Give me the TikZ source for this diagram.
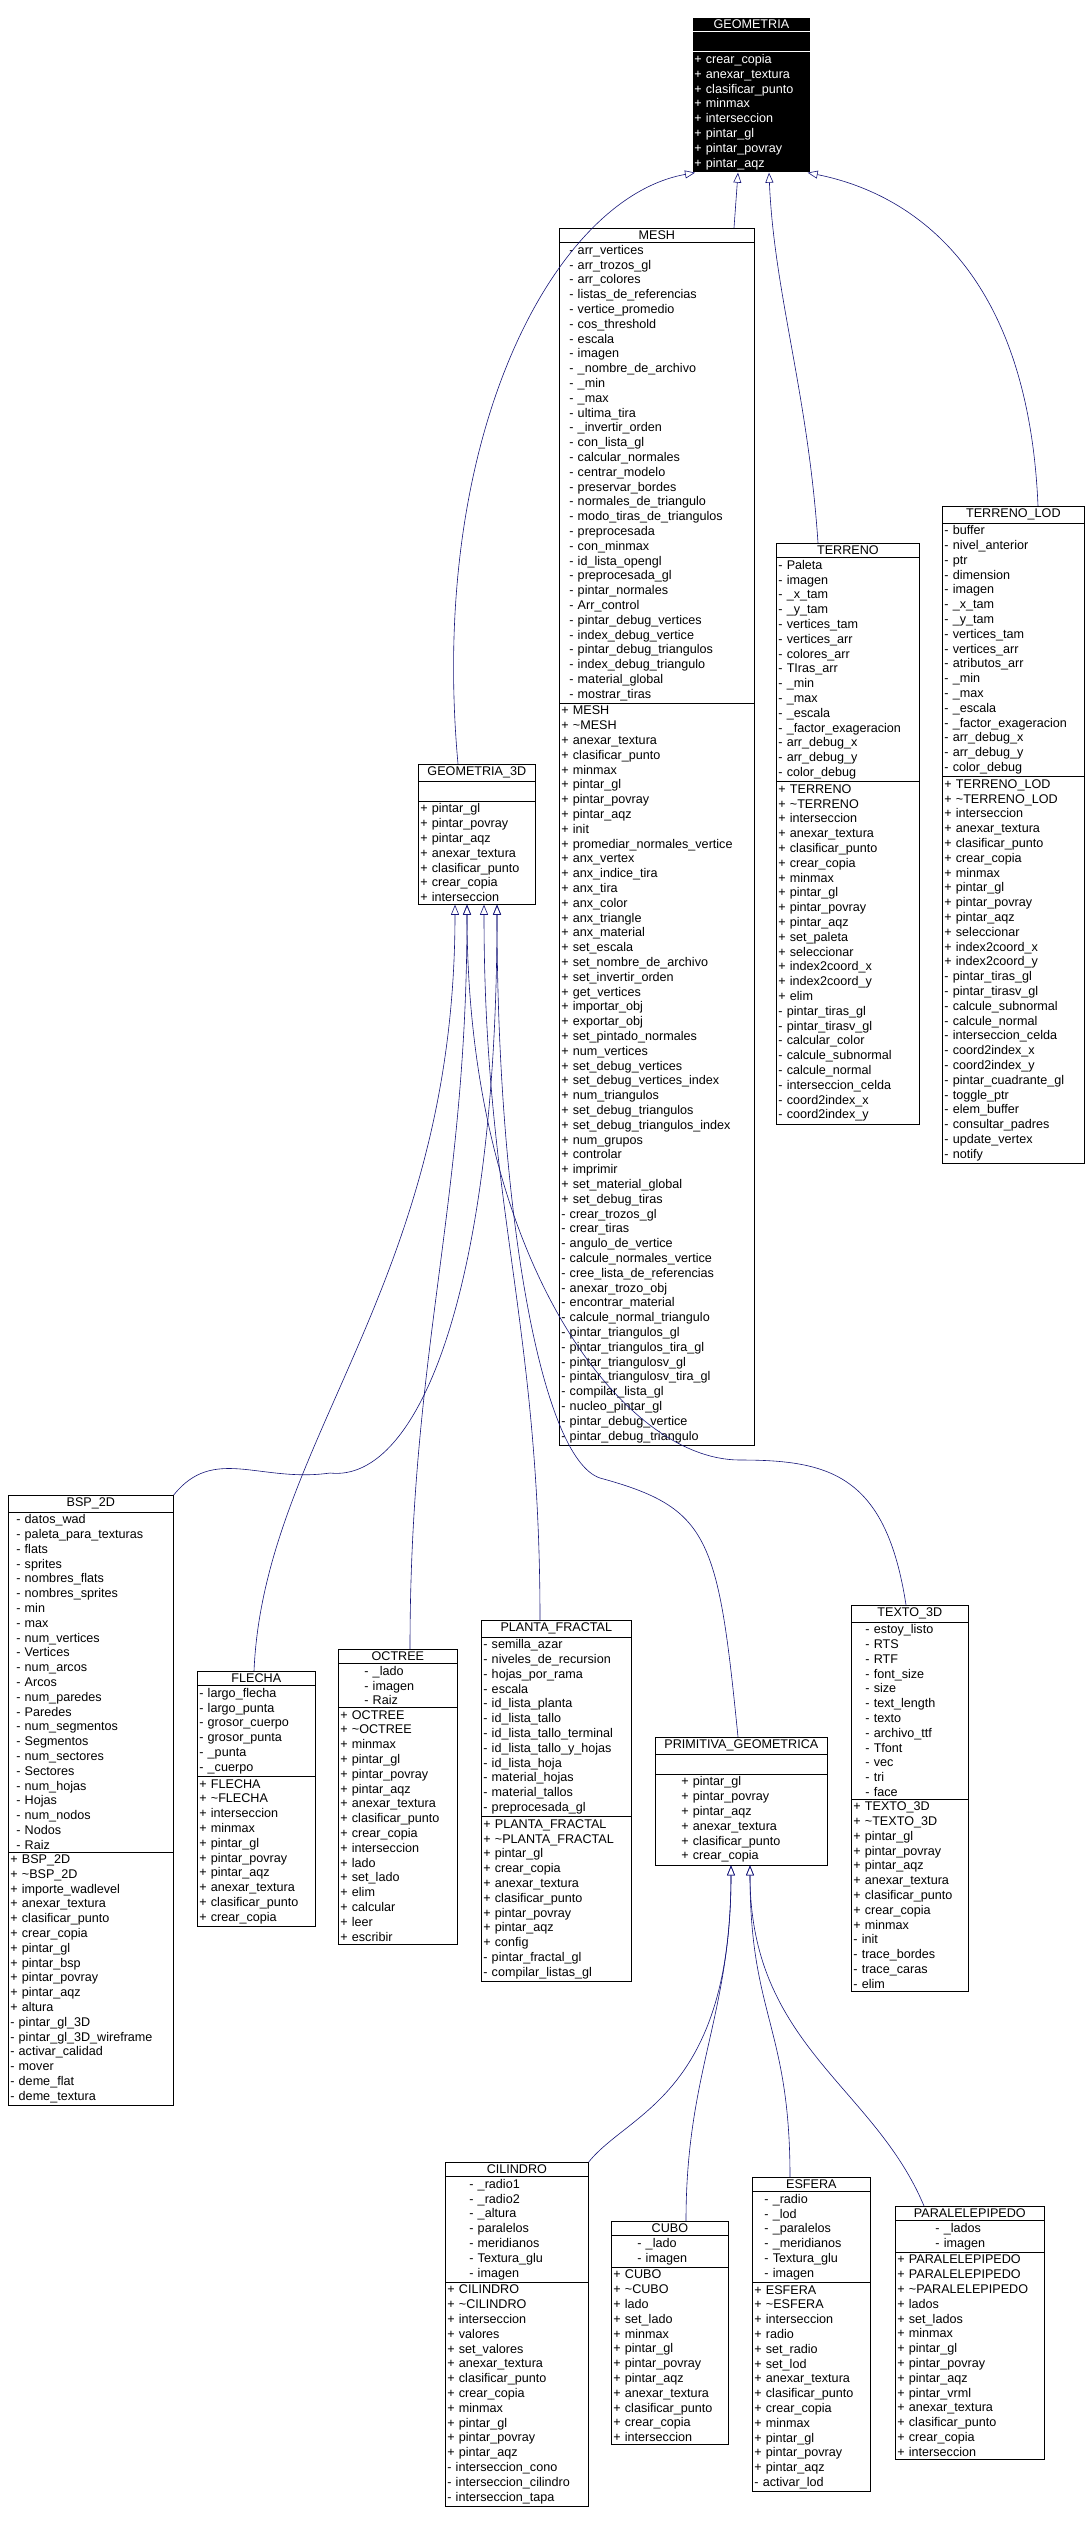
\documentclass[tikz,border=0pt]{standalone}
\usepackage{fontspec}
\setmainfont{Liberation Sans}
\usetikzlibrary{shapes.multipart,arrows.meta}

\begin{document}
\catcode`\_=12
\begin{tikzpicture}[x=1pt,y=-1pt,
    umlclass/.style={rectangle split, rectangle split parts=3, draw, line width=0.7pt,
        anchor=north west, inner xsep=2pt, inner ysep=2.3pt, align=left,
        font=\fontsize{12.6}{14.8}\selectfont},
    darkclass/.style={umlclass, fill=black, draw=white, text=white},
    inherit/.style={draw={rgb,255:red,20;green,20;blue,120}, line width=0.6pt,
        -{Triangle[open,width=8pt,length=10pt]}},
    ]
    \useasboundingbox (0,0) rectangle (1085,2532);

    % top level
    \node[darkclass, text width=114pt] (geom) at (692,17) {\makebox[\linewidth]{GEOMETRIA}
        \nodepart{two}\strut
        \nodepart{three}+ crear_copia\\+ anexar_textura\\+ clasificar_punto\\+ minmax\\+ interseccion\\+ pintar_gl\\+ pintar_povray\\+ pintar_aqz};

    \node[umlclass, text width=191pt] (mesh) at (559,228) {\makebox[\linewidth]{MESH}
        \nodepart{two}\leftskip=8pt - arr_vertices\\- arr_trozos_gl\\- arr_colores\\- listas_de_referencias\\- vertice_promedio\\- cos_threshold\\- escala\\- imagen\\- _nombre_de_archivo\\- _min\\- _max\\- ultima_tira\\- _invertir_orden\\- con_lista_gl\\- calcular_normales\\- centrar_modelo\\- preservar_bordes\\- normales_de_triangulo\\- modo_tiras_de_triangulos\\- preprocesada\\- con_minmax\\- id_lista_opengl\\- preprocesada_gl\\- pintar_normales\\- Arr_control\\- pintar_debug_vertices\\- index_debug_vertice\\- pintar_debug_triangulos\\- index_debug_triangulo\\- material_global\\- mostrar_tiras\par
        \nodepart{three}+ MESH\\+ \textasciitilde MESH\\+ anexar_textura\\+ clasificar_punto\\+ minmax\\+ pintar_gl\\+ pintar_povray\\+ pintar_aqz\\+ init\\+ promediar_normales_vertice\\+ anx_vertex\\+ anx_indice_tira\\+ anx_tira\\+ anx_color\\+ anx_triangle\\+ anx_material\\+ set_escala\\+ set_nombre_de_archivo\\+ set_invertir_orden\\+ get_vertices\\+ importar_obj\\+ exportar_obj\\+ set_pintado_normales\\+ num_vertices\\+ set_debug_vertices\\+ set_debug_vertices_index\\+ num_triangulos\\+ set_debug_triangulos\\+ set_debug_triangulos_index\\+ num_grupos\\+ controlar\\+ imprimir\\+ set_material_global\\+ set_debug_tiras\\- crear_trozos_gl\\- crear_tiras\\- angulo_de_vertice\\- calcule_normales_vertice\\- cree_lista_de_referencias\\- anexar_trozo_obj\\- encontrar_material\\- calcule_normal_triangulo\\- pintar_triangulos_gl\\- pintar_triangulos_tira_gl\\- pintar_triangulosv_gl\\- pintar_triangulosv_tira_gl\\- compilar_lista_gl\\- nucleo_pintar_gl\\- pintar_debug_vertice\\- pintar_debug_triangulo};

    \node[umlclass, text width=139pt] (terr) at (776,543) {\makebox[\linewidth]{TERRENO}
        \nodepart{two}- Paleta\\- imagen\\- _x_tam\\- _y_tam\\- vertices_tam\\- vertices_arr\\- colores_arr\\- TIras_arr\\- _min\\- _max\\- _escala\\- _factor_exageracion\\- arr_debug_x\\- arr_debug_y\\- color_debug
        \nodepart{three}+ TERRENO\\+ \textasciitilde TERRENO\\+ interseccion\\+ anexar_textura\\+ clasificar_punto\\+ crear_copia\\+ minmax\\+ pintar_gl\\+ pintar_povray\\+ pintar_aqz\\+ set_paleta\\+ seleccionar\\+ index2coord_x\\+ index2coord_y\\+ elim\\- pintar_tiras_gl\\- pintar_tirasv_gl\\- calcular_color\\- calcule_subnormal\\- calcule_normal\\- interseccion_celda\\- coord2index_x\\- coord2index_y};

    \node[umlclass, text width=138pt] (terrlod) at (942,506) {\makebox[\linewidth]{TERRENO_LOD}
        \nodepart{two}- buffer\\- nivel_anterior\\- ptr\\- dimension\\- imagen\\- _x_tam\\- _y_tam\\- vertices_tam\\- vertices_arr\\- atributos_arr\\- _min\\- _max\\- _escala\\- _factor_exageracion\\- arr_debug_x\\- arr_debug_y\\- color_debug
        \nodepart{three}+ TERRENO_LOD\\+ \textasciitilde TERRENO_LOD\\+ interseccion\\+ anexar_textura\\+ clasificar_punto\\+ crear_copia\\+ minmax\\+ pintar_gl\\+ pintar_povray\\+ pintar_aqz\\+ seleccionar\\+ index2coord_x\\+ index2coord_y\\- pintar_tiras_gl\\- pintar_tirasv_gl\\- calcule_subnormal\\- calcule_normal\\- interseccion_celda\\- coord2index_x\\- coord2index_y\\- pintar_cuadrante_gl\\- toggle_ptr\\- elem_buffer\\- consultar_padres\\- update_vertex\\- notify};

    \node[umlclass, text width=113pt] (g3d) at (418,764) {\makebox[\linewidth]{GEOMETRIA_3D}
        \nodepart{two}\strut
        \nodepart{three}+ pintar_gl\\+ pintar_povray\\+ pintar_aqz\\+ anexar_textura\\+ clasificar_punto\\+ crear_copia\\+ interseccion};

    % second level
    \node[umlclass, text width=161pt] (bsp) at (8,1495) {\makebox[\linewidth]{BSP_2D}
        \nodepart{two}\leftskip=6pt - datos_wad\\- paleta_para_texturas\\- flats\\- sprites\\- nombres_flats\\- nombres_sprites\\- min\\- max\\- num_vertices\\- Vertices\\- num_arcos\\- Arcos\\- num_paredes\\- Paredes\\- num_segmentos\\- Segmentos\\- num_sectores\\- Sectores\\- num_hojas\\- Hojas\\- num_nodos\\- Nodos\\- Raiz\par
        \nodepart{three}+ BSP_2D\\+ \textasciitilde BSP_2D\\+ importe_wadlevel\\+ anexar_textura\\+ clasificar_punto\\+ crear_copia\\+ pintar_gl\\+ pintar_bsp\\+ pintar_povray\\+ pintar_aqz\\+ altura\\- pintar_gl_3D\\- pintar_gl_3D_wireframe\\- activar_calidad\\- mover\\- deme_flat\\- deme_textura};

    \node[umlclass, text width=114pt] (flecha) at (197,1671) {\makebox[\linewidth]{FLECHA}
        \nodepart{two}- largo_flecha\\- largo_punta\\- grosor_cuerpo\\- grosor_punta\\- _punta\\- _cuerpo
        \nodepart{three}+ FLECHA\\+ \textasciitilde FLECHA\\+ interseccion\\+ minmax\\+ pintar_gl\\+ pintar_povray\\+ pintar_aqz\\+ anexar_textura\\+ clasificar_punto\\+ crear_copia};

    \node[umlclass, text width=115pt] (octree) at (338,1649) {\makebox[\linewidth]{OCTREE}
        \nodepart{two}\leftskip=24pt - _lado\\- imagen\\- Raiz\par
        \nodepart{three}+ OCTREE\\+ \textasciitilde OCTREE\\+ minmax\\+ pintar_gl\\+ pintar_povray\\+ pintar_aqz\\+ anexar_textura\\+ clasificar_punto\\+ crear_copia\\+ interseccion\\+ lado\\+ set_lado\\+ elim\\+ calcular\\+ leer\\+ escribir};

    \node[umlclass, text width=146pt] (planta) at (481,1620) {\makebox[\linewidth]{PLANTA_FRACTAL}
        \nodepart{two}- semilla_azar\\- niveles_de_recursion\\- hojas_por_rama\\- escala\\- id_lista_planta\\- id_lista_tallo\\- id_lista_tallo_terminal\\- id_lista_tallo_y_hojas\\- id_lista_hoja\\- material_hojas\\- material_tallos\\- preprocesada_gl
        \nodepart{three}+ PLANTA_FRACTAL\\+ \textasciitilde PLANTA_FRACTAL\\+ pintar_gl\\+ crear_copia\\+ anexar_textura\\+ clasificar_punto\\+ pintar_povray\\+ pintar_aqz\\+ config\\- pintar_fractal_gl\\- compilar_listas_gl};

    \node[umlclass, text width=168pt] (prim) at (655,1737) {\makebox[\linewidth]{PRIMITIVA_GEOMETRICA}
        \nodepart{two}\strut
        \nodepart{three}\leftskip=24pt + pintar_gl\\+ pintar_povray\\+ pintar_aqz\\+ anexar_textura\\+ clasificar_punto\\+ crear_copia\par};

    \node[umlclass, text width=113pt] (texto) at (851,1605) {\makebox[\linewidth]{TEXTO_3D}
        \nodepart{two}\leftskip=12pt - estoy_listo\\- RTS\\- RTF\\- font_size\\- size\\- text_length\\- texto\\- archivo_ttf\\- Tfont\\- vec\\- tri\\- face\par
        \nodepart{three}+ TEXTO_3D\\+ \textasciitilde TEXTO_3D\\+ pintar_gl\\+ pintar_povray\\+ pintar_aqz\\+ anexar_textura\\+ clasificar_punto\\+ crear_copia\\+ minmax\\- init\\- trace_bordes\\- trace_caras\\- elim};

    % primitives
    \node[umlclass, text width=139pt] (cil) at (445,2162) {\makebox[\linewidth]{CILINDRO}
        \nodepart{two}\leftskip=22pt - _radio1\\- _radio2\\- _altura\\- paralelos\\- meridianos\\- Textura_glu\\- imagen\par
        \nodepart{three}+ CILINDRO\\+ \textasciitilde CILINDRO\\+ interseccion\\+ valores\\+ set_valores\\+ anexar_textura\\+ clasificar_punto\\+ crear_copia\\+ minmax\\+ pintar_gl\\+ pintar_povray\\+ pintar_aqz\\- interseccion_cono\\- interseccion_cilindro\\- interseccion_tapa};

    \node[umlclass, text width=113pt] (cubo) at (611,2221) {\makebox[\linewidth]{CUBO}
        \nodepart{two}\leftskip=24pt - _lado\\- imagen\par
        \nodepart{three}+ CUBO\\+ \textasciitilde CUBO\\+ lado\\+ set_lado\\+ minmax\\+ pintar_gl\\+ pintar_povray\\+ pintar_aqz\\+ anexar_textura\\+ clasificar_punto\\+ crear_copia\\+ interseccion};

    \node[umlclass, text width=114pt] (esf) at (752,2177) {\makebox[\linewidth]{ESFERA}
        \nodepart{two}\leftskip=10pt - _radio\\- _lod\\- _paralelos\\- _meridianos\\- Textura_glu\\- imagen\par
        \nodepart{three}+ ESFERA\\+ \textasciitilde ESFERA\\+ interseccion\\+ radio\\+ set_radio\\+ set_lod\\+ anexar_textura\\+ clasificar_punto\\+ crear_copia\\+ minmax\\+ pintar_gl\\+ pintar_povray\\+ pintar_aqz\\- activar_lod};

    \node[umlclass, text width=145pt] (para) at (895,2206) {\makebox[\linewidth]{PARALELEPIPEDO}
        \nodepart{two}\leftskip=38pt - _lados\\- imagen\par
        \nodepart{three}+ PARALELEPIPEDO\\+ PARALELEPIPEDO\\+ \textasciitilde PARALELEPIPEDO\\+ lados\\+ set_lados\\+ minmax\\+ pintar_gl\\+ pintar_povray\\+ pintar_aqz\\+ pintar_vrml\\+ anexar_textura\\+ clasificar_punto\\+ crear_copia\\+ interseccion};

    % generalisations
    \draw[inherit] ([xshift=40]g3d.north west) .. controls +(-30,-330) and +(-140,25) .. ([xshift=3]geom.south west);
    \draw[inherit] ([xshift=175]mesh.north west) -- ([xshift=46]geom.south west);
    \draw[inherit] ([xshift=42]terr.north west) .. controls +(-10,-150) and +(5,120) .. ([xshift=77]geom.south west);
    \draw[inherit] ([xshift=96]terrlod.north west) .. controls +(-10,-240) and +(100,20) .. ([xshift=-3]geom.south east);

    \draw[inherit] (bsp.north east) .. controls +(40,-50) and +(-70,10) .. (330,1473) .. controls +(90,10) and +(0,380) .. ([xshift=79]g3d.south west);
    \draw[inherit] ([xshift=57]flecha.north west) .. controls +(10,-230) and +(0,380) .. ([xshift=37]g3d.south west);
    \draw[inherit] ([xshift=72]octree.north west) .. controls +(0,-300) and +(0,300) .. ([xshift=49]g3d.south west);
    \draw[inherit] ([xshift=59]planta.north west) .. controls +(0,-300) and +(0,300) .. ([xshift=66]g3d.south west);
    \draw[inherit] ([xshift=83]prim.north west) .. controls +(-20,-200) and +(110,30) .. (600,1478) .. controls +(-60,-20) and +(0,300) .. ([xshift=79]g3d.south west);
    \draw[inherit] ([xshift=55]texto.north west) .. controls +(-20,-130) and +(90,0) .. (740,1460) .. controls +(-120,0) and +(0,350) .. ([xshift=49]g3d.south west);

    \draw[inherit] (cil.north east) .. controls +(40,-50) and +(0,230) .. ([xshift=76]prim.south west);
    \draw[inherit] ([xshift=75]cubo.north west) .. controls +(0,-150) and +(0,150) .. ([xshift=76]prim.south west);
    \draw[inherit] ([xshift=38]esf.north west) .. controls +(0,-150) and +(0,150) .. ([xshift=95]prim.south west);
    \draw[inherit] ([xshift=29]para.north west) .. controls +(-50,-120) and +(0,180) .. ([xshift=95]prim.south west);
\end{tikzpicture}
\end{document}
